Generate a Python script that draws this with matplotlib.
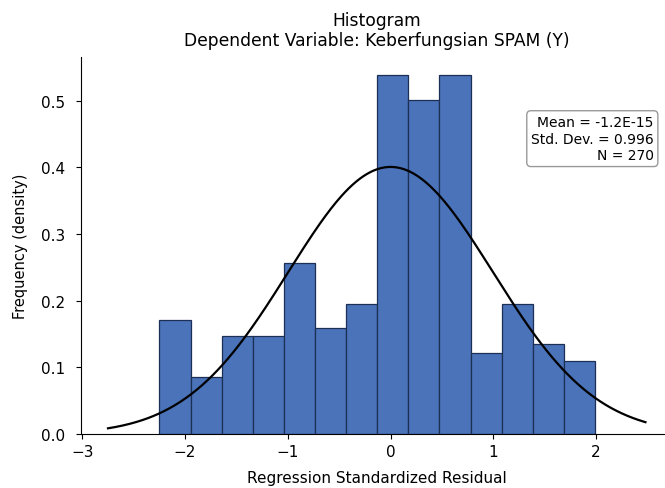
import matplotlib
matplotlib.use("Agg")
import matplotlib.pyplot as plt
import numpy as np

# histogram of standardized residuals (counts, N = 270)
bin_edges = np.linspace(-2.25, 1.99, 15)
counts = [14, 7, 12, 12, 21, 13, 16, 44, 41, 44, 10, 16, 11, 9]
resid_mean = -1.2e-15
resid_std = 0.996
n_obs = 270
curve_range = (-2.75, 2.48)

fig = plt.figure(figsize=(6.65, 4.89), dpi=100)
ax = fig.add_axes([0.122, 0.110, 0.889, 0.771])

centers = (bin_edges[:-1] + bin_edges[1:]) / 2
ax.hist(centers, bins=bin_edges, weights=counts, density=True,
        color='#4a73b9', edgecolor='#1c2f55', linewidth=0.9)

xs = np.linspace(curve_range[0], curve_range[1], 300)
pdf = np.exp(-0.5 * ((xs - resid_mean) / resid_std) ** 2) / (resid_std * np.sqrt(2 * np.pi))
ax.plot(xs, pdf, color='black', linewidth=1.6)

ax.spines['top'].set_visible(False)
ax.spines['right'].set_visible(False)
ax.tick_params(labelsize=11)
ax.tick_params(axis='y', pad=8)
ax.set_xlabel('Regression Standardized Residual', fontsize=11, labelpad=8)
ax.set_ylabel('Frequency (density)', fontsize=10.5, labelpad=9)
ax.set_title('Histogram\nDependent Variable: Keberfungsian SPAM (Y)', fontsize=12.3,
             pad=9, linespacing=1.12)

stats = 'Mean = %.1E\nStd. Dev. = %.3f\nN = %d' % (resid_mean, resid_std, n_obs)
fig.text(0.983, 0.763, stats, ha='right', va='top', fontsize=10, linespacing=1.25,
         bbox=dict(boxstyle='round,pad=0.3', facecolor='white', edgecolor='#999999'))

fig.savefig('out.png', dpi=100)
